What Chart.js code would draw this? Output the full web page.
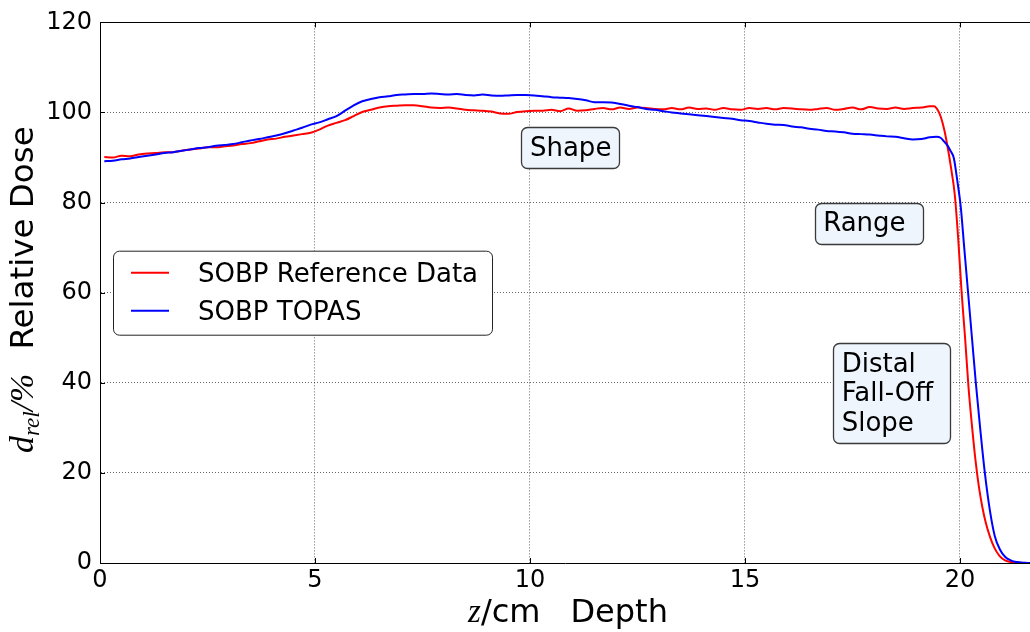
<!DOCTYPE html>
<html>
<head>
<meta charset="utf-8">
<script src="https://cdn.jsdelivr.net/npm/chart.js@4.4.0/dist/chart.umd.min.js"></script>
<style>
  html, body { margin: 0; padding: 0; background: #fff; overflow: hidden; }
  canvas { display: block; }
</style>
</head>
<body>
<canvas id="c" width="1030" height="632"></canvas>
<script>
// Depth-dose profiles of the spread-out Bragg peak (depth in cm, dose in %)
const refDepth = [
  0.10, 0.30, 0.50, 0.70, 0.90, 1.10, 1.30, 1.50, 1.70, 1.90,
  2.10, 2.30, 2.50, 2.70, 2.90, 3.10, 3.30, 3.50, 3.70, 3.90,
  4.10, 4.30, 4.50, 4.70, 4.90, 5.10, 5.30, 5.50, 5.70, 5.90,
  6.10, 6.30, 6.50, 6.70, 6.90, 7.10, 7.30, 7.50, 7.70, 7.90,
  8.10, 8.30, 8.50, 8.70, 8.90, 9.10, 9.30, 9.50, 9.70, 9.90,
  10.10, 10.30, 10.50, 10.70, 10.90, 11.10, 11.30, 11.50, 11.70, 11.90,
  12.10, 12.30, 12.50, 12.70, 12.90, 13.10, 13.30, 13.50, 13.70, 13.90,
  14.10, 14.30, 14.50, 14.70, 14.90, 15.10, 15.30, 15.50, 15.70, 15.90,
  16.10, 16.30, 16.50, 16.70, 16.90, 17.10, 17.30, 17.50, 17.70, 17.90,
  18.10, 18.30, 18.50, 18.70, 18.90, 19.10, 19.30, 19.40, 19.48, 19.56,
  19.64, 19.72, 19.80, 19.88, 19.96, 20.04, 20.12, 20.20, 20.28, 20.36,
  20.44, 20.52, 20.60, 20.70, 20.80, 20.92, 21.05, 21.20, 21.40, 21.63
];
const refDose = [
  90.1, 90.0, 90.4, 90.3, 90.7, 90.9, 91.0, 91.2, 91.2, 91.5,
  91.8, 92.0, 92.3, 92.3, 92.5, 92.7, 93.0, 93.2, 93.6, 94.0,
  94.2, 94.6, 94.9, 95.2, 95.5, 96.2, 97.1, 97.7, 98.3, 99.2,
  100.1, 100.6, 101.1, 101.4, 101.5, 101.6, 101.6, 101.4, 101.1, 101.0,
  101.1, 100.9, 100.6, 100.5, 100.4, 100.2, 99.8, 99.7, 100.1, 100.3,
  100.4, 100.4, 100.6, 100.3, 100.9, 100.4, 100.5, 100.8, 101.0, 100.7,
  101.1, 100.8, 101.1, 101.0, 100.8, 100.7, 101.0, 100.7, 101.1, 100.8,
  100.9, 100.6, 101.0, 100.7, 100.6, 101.0, 100.8, 101.0, 100.7, 101.0,
  100.9, 100.7, 100.6, 100.8, 101.0, 100.6, 100.8, 101.1, 100.7, 101.2,
  100.9, 100.8, 101.1, 100.8, 101.0, 101.1, 101.4, 101.4, 100.6, 98.9,
  96.0, 92.0, 87.3, 81.8, 72.0, 60.0, 50.0, 39.0, 30.5, 23.0,
  17.0, 12.5, 9.0, 5.8, 3.4, 1.6, 0.6, 0.2, 0.05, 0.0
];
const topasDepth = [
  0.10, 0.30, 0.50, 0.70, 0.90, 1.10, 1.30, 1.50, 1.70, 1.90,
  2.10, 2.30, 2.50, 2.70, 2.90, 3.10, 3.30, 3.50, 3.70, 3.90,
  4.10, 4.30, 4.50, 4.70, 4.90, 5.10, 5.30, 5.50, 5.70, 5.90,
  6.10, 6.30, 6.50, 6.70, 6.90, 7.10, 7.30, 7.50, 7.70, 7.90,
  8.10, 8.30, 8.50, 8.70, 8.90, 9.10, 9.30, 9.50, 9.70, 9.90,
  10.10, 10.30, 10.50, 10.70, 10.90, 11.10, 11.30, 11.50, 11.70, 11.90,
  12.10, 12.30, 12.50, 12.70, 12.90, 13.10, 13.30, 13.50, 13.70, 13.90,
  14.10, 14.30, 14.50, 14.70, 14.90, 15.10, 15.30, 15.50, 15.70, 15.90,
  16.10, 16.30, 16.50, 16.70, 16.90, 17.10, 17.30, 17.50, 17.70, 17.90,
  18.10, 18.30, 18.50, 18.70, 18.90, 19.10, 19.30, 19.45, 19.55, 19.63,
  19.70, 19.78, 19.86, 19.94, 20.02, 20.10, 20.19, 20.28, 20.37, 20.47,
  20.58, 20.70, 20.81, 20.93, 21.05, 21.18, 21.32, 21.50, 21.63
];
const topasDose = [
  89.2, 89.3, 89.6, 89.8, 90.1, 90.4, 90.7, 91.0, 91.2, 91.5,
  91.8, 92.1, 92.3, 92.6, 92.8, 93.0, 93.4, 93.8, 94.1, 94.5,
  94.9, 95.4, 96.0, 96.6, 97.3, 97.8, 98.5, 99.2, 100.4, 101.6,
  102.5, 103.0, 103.4, 103.6, 103.9, 104.0, 104.1, 104.1, 104.2, 104.1,
  104.0, 104.1, 103.9, 103.8, 104.0, 103.8, 103.7, 103.8, 103.9, 103.9,
  103.8, 103.6, 103.4, 103.3, 103.2, 103.0, 102.7, 102.3, 102.3, 102.2,
  101.9, 101.5, 101.2, 100.8, 100.6, 100.3, 100.0, 99.8, 99.6, 99.4,
  99.2, 99.0, 98.8, 98.6, 98.3, 98.1, 97.8, 97.5, 97.3, 97.2,
  96.9, 96.7, 96.4, 96.2, 95.9, 95.8, 95.6, 95.3, 95.2, 95.1,
  94.9, 94.7, 94.6, 94.3, 94.0, 94.1, 94.5, 94.6, 94.4, 93.6,
  92.8, 91.5, 89.8, 84.8, 79.0, 70.0, 60.0, 50.0, 40.0, 30.0,
  20.0, 11.5, 6.0, 3.0, 1.4, 0.6, 0.2, 0.05, 0.0
];
const depthTicks = [0, 5, 10, 15, 20];
const doseTicks = [0, 20, 40, 60, 80, 100, 120];
const seriesNames = ['SOBP Reference Data', 'SOBP TOPAS'];
const noteTexts = [['Shape'], ['Range '], ['Distal', 'Fall-Off ', 'Slope']];
// anchor of each note: left edge of the text and first baseline, in data units
const noteAnchors = [[10.0, 90.4], [16.82, 73.6], [17.25, 42.5]];

const SANS = '"DejaVu Sans", "Liberation Sans", sans-serif';
const SERIF = '"Liberation Serif", "DejaVu Serif", serif';

function toPoints(xs, ys) { return xs.map((x, i) => ({ x: x, y: ys[i] })); }

function roundRect(ctx, x, y, w, h, r) {
  ctx.beginPath();
  ctx.moveTo(x + r, y);
  ctx.lineTo(x + w - r, y);
  ctx.arcTo(x + w, y, x + w, y + r, r);
  ctx.lineTo(x + w, y + h - r);
  ctx.arcTo(x + w, y + h, x + w - r, y + h, r);
  ctx.lineTo(x + r, y + h);
  ctx.arcTo(x, y + h, x, y + h - r, r);
  ctx.lineTo(x, y + r);
  ctx.arcTo(x, y, x + r, y, r);
  ctx.closePath();
}

// draws a run of differently styled text pieces along the baseline
function drawRuns(ctx, runs, startX) {
  let x = startX;
  runs.forEach(r => {
    if (r.gap) { x += r.gap; return; }
    ctx.font = r.font;
    ctx.fillText(r.text, x, r.dy || 0);
    x += ctx.measureText(r.text).width;
  });
}
function runsWidth(ctx, runs) {
  let w = 0;
  runs.forEach(r => {
    if (r.gap) { w += r.gap; return; }
    ctx.font = r.font;
    w += ctx.measureText(r.text).width;
  });
  return w;
}

const decorations = {
  id: 'decorations',
  afterDraw(chart) {
    const ctx = chart.ctx;
    const a = chart.chartArea;
    const xs = chart.scales.x, ys = chart.scales.y;
    ctx.save();
    ctx.fillStyle = '#000';
    ctx.textBaseline = 'alphabetic';
    ctx.textAlign = 'left';

    // top frame line and inward tick marks
    ctx.strokeStyle = '#000';
    ctx.lineWidth = 1;
    ctx.beginPath();
    ctx.moveTo(a.left, Math.round(a.top) + 0.5);
    ctx.lineTo(a.right, Math.round(a.top) + 0.5);
    depthTicks.forEach(v => {
      const px = Math.round(xs.getPixelForValue(v)) + 0.5;
      ctx.moveTo(px, a.bottom); ctx.lineTo(px, a.bottom - 5);
      ctx.moveTo(px, a.top); ctx.lineTo(px, a.top + 5);
    });
    doseTicks.forEach(v => {
      const py = Math.round(ys.getPixelForValue(v)) + 0.5;
      ctx.moveTo(a.left, py); ctx.lineTo(a.left + 5, py);
    });
    ctx.stroke();

    // x axis title
    const xRuns = [
      { text: 'z', font: 'italic 33px ' + SERIF },
      { text: '/cm', font: '32px ' + SANS },
      { gap: 30 },
      { text: 'Depth', font: '32px ' + SANS }
    ];
    const xw = runsWidth(ctx, xRuns);
    ctx.save();
    ctx.translate((a.left + a.right) / 2 + 3 - xw / 2, 622);
    drawRuns(ctx, xRuns, 0);
    ctx.restore();

    // y axis title
    const yRuns = [
      { text: 'd', font: 'italic 34px ' + SERIF },
      { text: 'rel', font: 'italic 23px ' + SERIF, dy: 6 },
      { text: '/%', font: 'italic 34px ' + SERIF },
      { gap: 24 },
      { text: 'Relative Dose', font: '32.5px ' + SANS }
    ];
    const yw = runsWidth(ctx, yRuns);
    ctx.save();
    ctx.translate(33, (a.top + a.bottom) / 2 - 3);
    ctx.rotate(-Math.PI / 2);
    drawRuns(ctx, yRuns, -yw / 2);
    ctx.restore();

    // legend
    ctx.font = '26px ' + SANS;
    let tw = 0;
    seriesNames.forEach(n => { tw = Math.max(tw, ctx.measureText(n).width); });
    const lw = 85 + tw + 14, lh = 84;
    const lx = a.left + 13, ly = (a.top + a.bottom) / 2 - lh / 2;
    roundRect(ctx, lx + 0.5, ly + 0.5, lw, lh, 6);
    ctx.fillStyle = '#fff';
    ctx.fill();
    ctx.strokeStyle = '#222';
    ctx.lineWidth = 1;
    ctx.stroke();
    chart.data.datasets.forEach((ds, i) => {
      const rowY = ly + 22 + i * 38;
      ctx.strokeStyle = ds.borderColor;
      ctx.lineWidth = 2;
      ctx.beginPath();
      ctx.moveTo(lx + 18, rowY);
      ctx.lineTo(lx + 56, rowY);
      ctx.stroke();
      ctx.fillStyle = '#000';
      ctx.fillText(ds.label, lx + 85, rowY + 9);
    });

    // annotation boxes
    ctx.font = '26px ' + SANS;
    const capH = 19, lineStep = 29.5;
    noteTexts.forEach((lines, i) => {
      const px = xs.getPixelForValue(noteAnchors[i][0]);
      const py = ys.getPixelForValue(noteAnchors[i][1]);
      let w = 0;
      lines.forEach(t => { w = Math.max(w, ctx.measureText(t).width); });
      const top = py - capH - 9.5;
      const bottom = py + (lines.length - 1) * lineStep + 12.5;
      roundRect(ctx, Math.round(px - 8.5) + 0.5, Math.round(top) + 0.5, Math.round(w + 17), Math.round(bottom - top), 6);
      ctx.fillStyle = '#eef5fc';
      ctx.fill();
      ctx.strokeStyle = '#3a3a3a';
      ctx.lineWidth = 1.3;
      ctx.stroke();
      ctx.fillStyle = '#000';
      lines.forEach((t, k) => ctx.fillText(t, px, py + k * lineStep));
    });
    ctx.restore();
  }
};

new Chart(document.getElementById('c'), {
  type: 'line',
  data: {
    datasets: [
      {
        label: seriesNames[0],
        data: toPoints(refDepth, refDose),
        borderColor: '#ff0000',
        borderWidth: 2,
        pointRadius: 0,
        fill: false,
        cubicInterpolationMode: 'monotone',
        order: 1
      },
      {
        label: seriesNames[1],
        data: toPoints(topasDepth, topasDose),
        borderColor: '#0000ff',
        borderWidth: 2,
        pointRadius: 0,
        fill: false,
        cubicInterpolationMode: 'monotone',
        order: 0
      }
    ]
  },
  options: {
    responsive: false,
    animation: false,
    events: [],
    layout: { padding: { top: 19.5, right: 0, left: 0, bottom: 0 } },
    plugins: { legend: { display: false }, tooltip: { enabled: false } },
    scales: {
      x: {
        type: 'linear',
        min: 0,
        max: 21.63,
        afterBuildTicks: s => { s.ticks = depthTicks.map(v => ({ value: v })); },
        afterFit: s => { s.height = 69; },
        ticks: { font: { family: SANS, size: 24 }, color: '#000', padding: 3, maxRotation: 0 },
        grid: { color: 'rgba(0,0,0,0.6)', lineWidth: 1, drawTicks: false },
        border: { display: true, color: '#000', width: 1, dash: [1, 2] }
      },
      y: {
        type: 'linear',
        min: 0,
        max: 120,
        afterBuildTicks: s => { s.ticks = doseTicks.map(v => ({ value: v })); },
        afterFit: s => { s.width = 100; },
        ticks: { font: { family: SANS, size: 24 }, color: '#000', padding: 8 },
        grid: { color: 'rgba(0,0,0,0.6)', lineWidth: 1, drawTicks: false },
        border: { display: true, color: '#000', width: 1, dash: [1, 2] }
      }
    }
  },
  plugins: [decorations]
});
</script>
</body>
</html>
